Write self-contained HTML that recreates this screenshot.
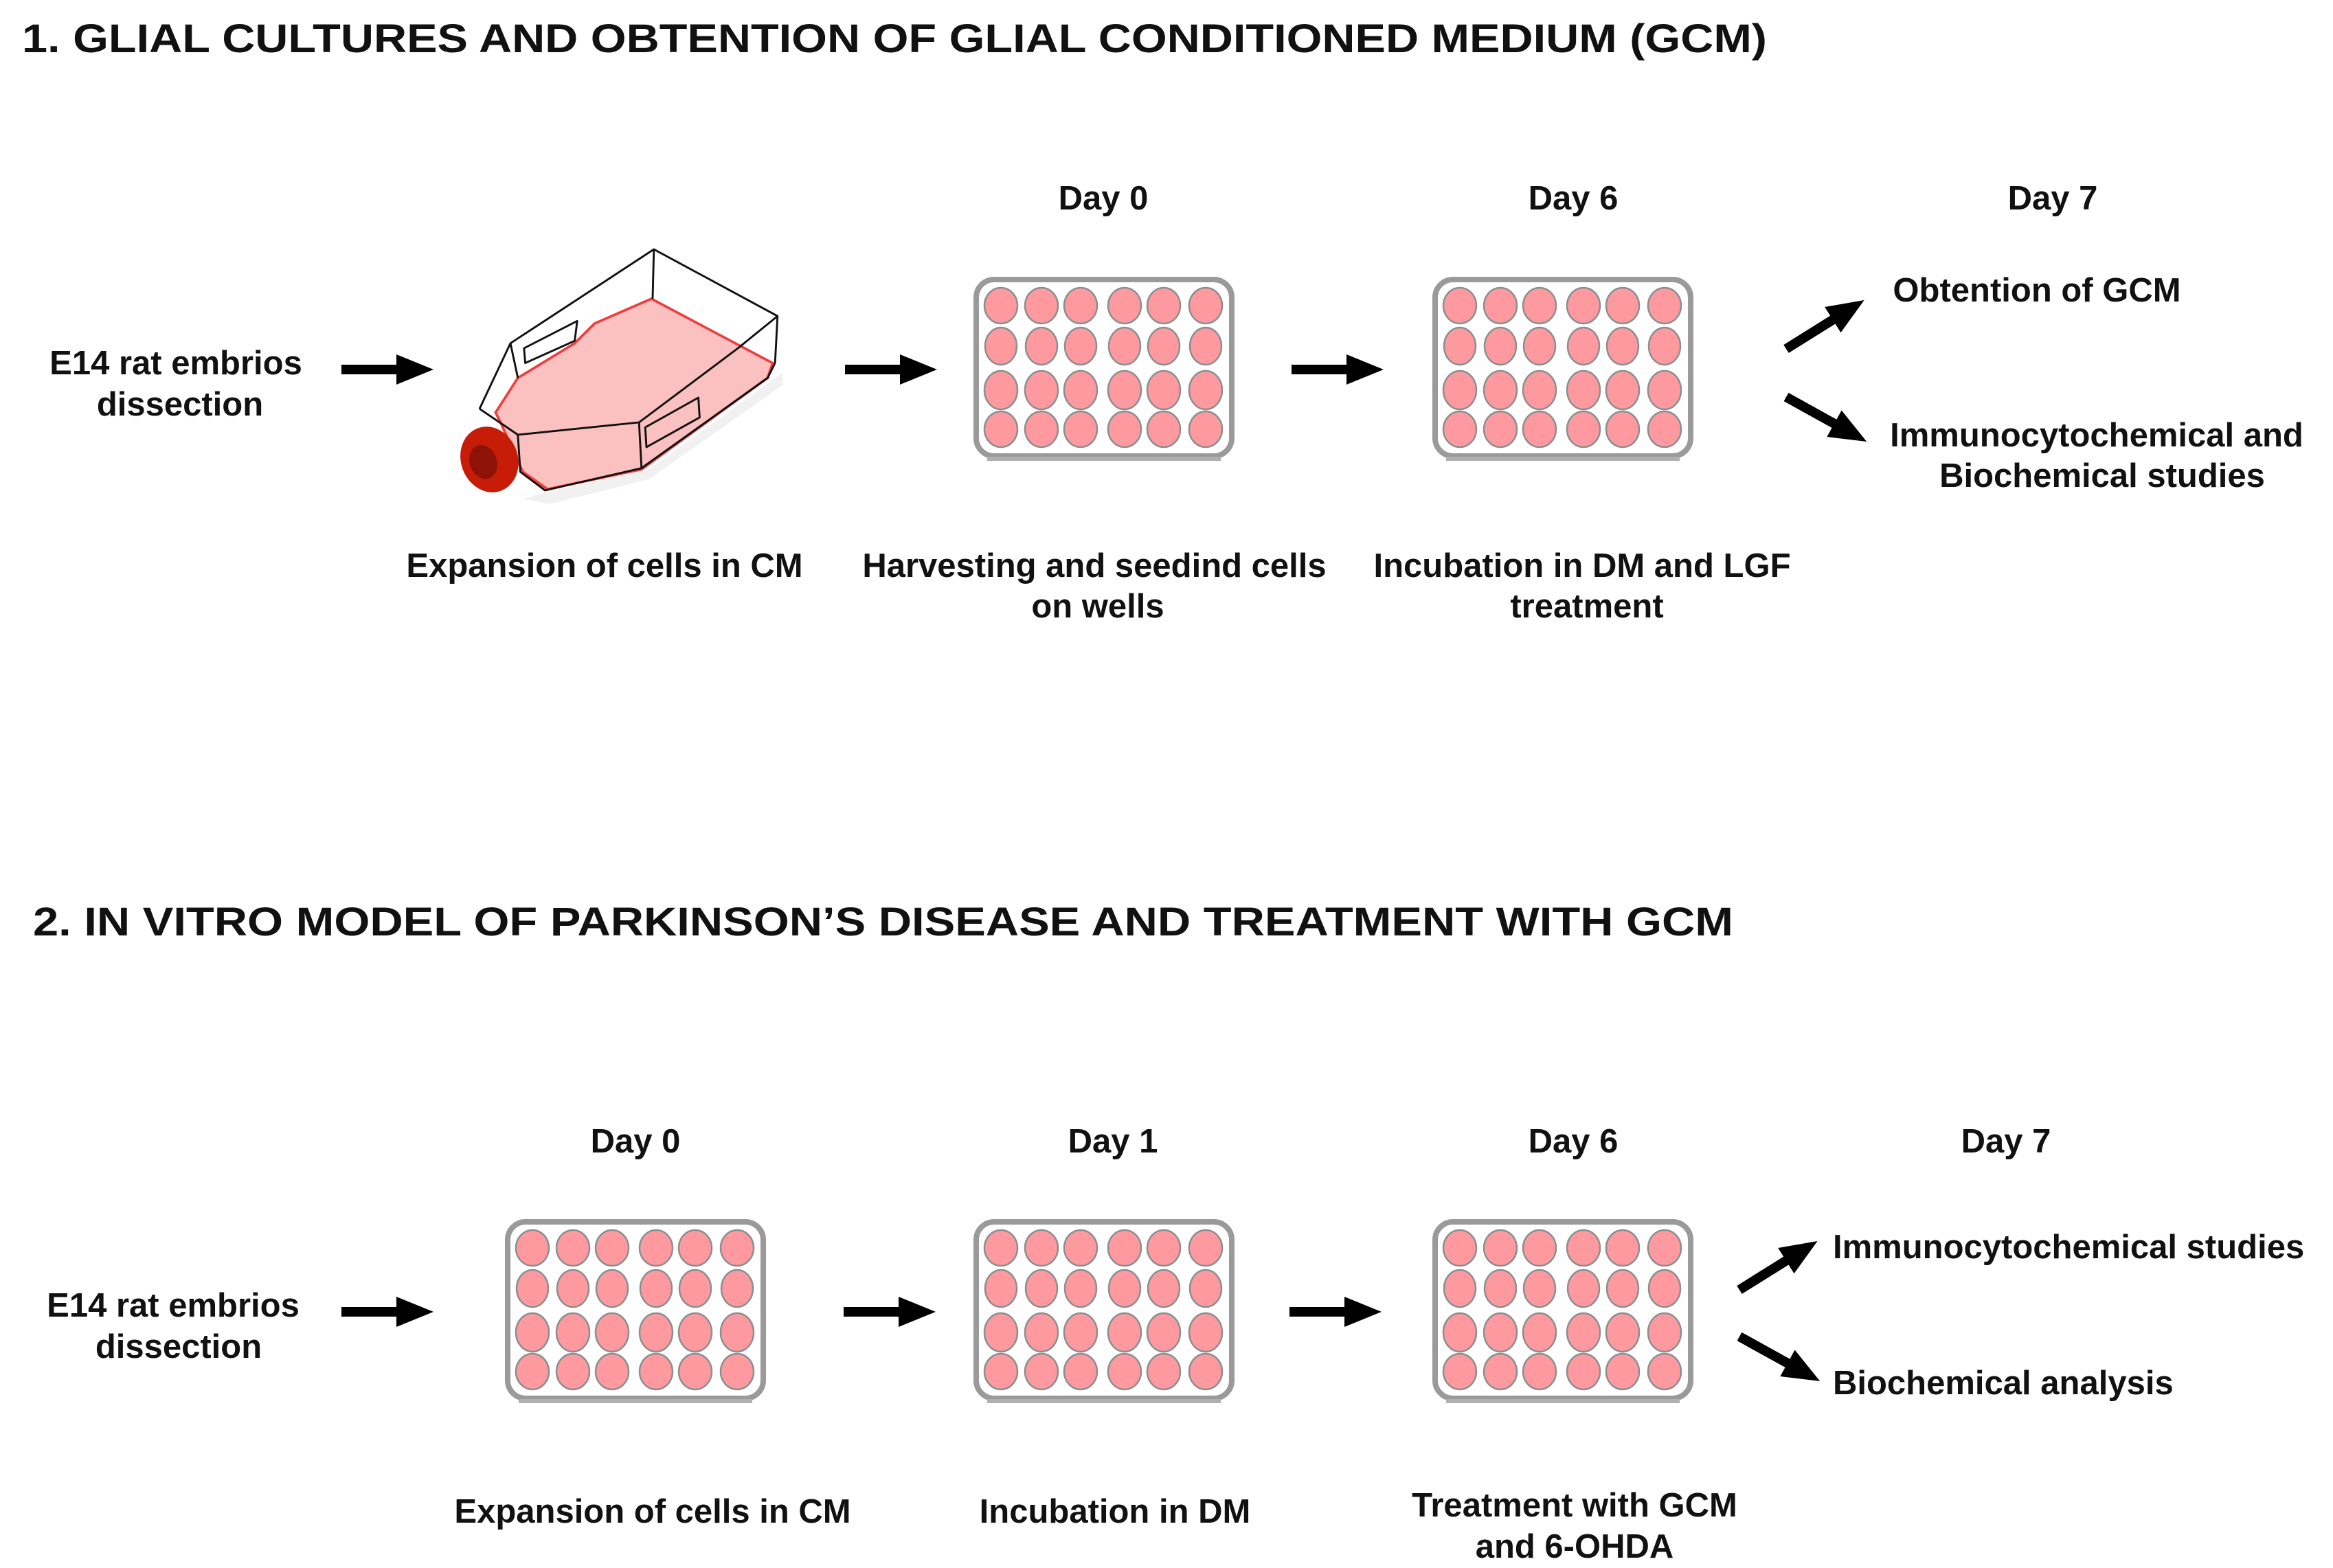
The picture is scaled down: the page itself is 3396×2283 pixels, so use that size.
<!DOCTYPE html>
<html><head><meta charset="utf-8"><style>
html,body{margin:0;padding:0;background:#fff;}
svg{display:block;}
text{font-family:"Liberation Sans",Arial,sans-serif;font-weight:bold;fill:#111;}
</style></head><body>
<svg width="3396" height="2283" viewBox="0 0 3396 2283" xmlns="http://www.w3.org/2000/svg">
<defs>
<g id="plate">
<rect x="4" y="4" width="372" height="257" rx="26" fill="#fff" stroke="#9a9a9a" stroke-width="8"/>
<rect x="20" y="262" width="340" height="6" fill="#b0b0b0"/>
<g fill="#fe9a9f" stroke="#8a8f8f" stroke-width="2.5">
<ellipse cx="40" cy="42" rx="24" ry="26"/><ellipse cx="99" cy="42" rx="24" ry="26"/><ellipse cx="156" cy="42" rx="24" ry="26"/><ellipse cx="220" cy="42" rx="24" ry="26"/><ellipse cx="277" cy="42" rx="24" ry="26"/><ellipse cx="338" cy="42" rx="24" ry="26"/>
<ellipse cx="40" cy="101" rx="23" ry="27"/><ellipse cx="99" cy="101" rx="23" ry="27"/><ellipse cx="156" cy="101" rx="23" ry="27"/><ellipse cx="220" cy="101" rx="23" ry="27"/><ellipse cx="277" cy="101" rx="23" ry="27"/><ellipse cx="338" cy="101" rx="23" ry="27"/>
<ellipse cx="40" cy="165" rx="24" ry="28"/><ellipse cx="99" cy="165" rx="24" ry="28"/><ellipse cx="156" cy="165" rx="24" ry="28"/><ellipse cx="220" cy="165" rx="24" ry="28"/><ellipse cx="277" cy="165" rx="24" ry="28"/><ellipse cx="338" cy="165" rx="24" ry="28"/>
<ellipse cx="40" cy="222" rx="24" ry="26"/><ellipse cx="99" cy="222" rx="24" ry="26"/><ellipse cx="156" cy="222" rx="24" ry="26"/><ellipse cx="220" cy="222" rx="24" ry="26"/><ellipse cx="277" cy="222" rx="24" ry="26"/><ellipse cx="338" cy="222" rx="24" ry="26"/>
</g>
</g>
<g id="arr">
<rect x="0" y="-7" width="90" height="14" fill="#000"/>
<polygon points="80,-22 134,0 80,22" fill="#000"/>
</g>
</defs>

<!-- Titles -->
<text x="32" y="76" font-size="58" textLength="2540" lengthAdjust="spacingAndGlyphs">1. GLIAL CULTURES AND OBTENTION OF GLIAL CONDITIONED MEDIUM (GCM)</text>
<text x="48" y="1362" font-size="58" textLength="2475" lengthAdjust="spacingAndGlyphs">2. IN VITRO MODEL OF PARKINSON’S DISEASE AND TREATMENT WITH GCM</text>

<g font-size="49" text-anchor="middle">
<!-- Section 1 -->
<text x="256" y="545">E14 rat embrios</text>
<text x="262" y="605">dissection</text>
<text x="1606" y="305">Day 0</text>
<text x="2290" y="305">Day 6</text>
<text x="2988" y="305">Day 7</text>
<text x="2965" y="439">Obtention of GCM</text>
<text x="3052" y="650">Immunocytochemical and</text>
<text x="3060" y="709">Biochemical  studies</text>
<text x="880" y="840">Expansion of cells in CM</text>
<text x="1593" y="840">Harvesting and seedind cells</text>
<text x="1598" y="899">on wells</text>
<text x="2303" y="840">Incubation in DM and LGF</text>
<text x="2310" y="899">treatment</text>
<!-- Section 2 -->
<text x="252" y="1917">E14 rat embrios</text>
<text x="260" y="1977">dissection</text>
<text x="925" y="1678">Day 0</text>
<text x="1620" y="1678">Day 1</text>
<text x="2290" y="1678">Day 6</text>
<text x="2920" y="1678">Day 7</text>
<text x="2668" y="1832" text-anchor="start">Immunocytochemical studies</text>
<text x="2668" y="2030" text-anchor="start">Biochemical analysis</text>
<text x="950" y="2217">Expansion of cells in CM</text>
<text x="1623" y="2217">Incubation in DM</text>
<text x="2292" y="2208">Treatment with GCM</text>
<text x="2292" y="2268">and 6-OHDA</text>
</g>

<!-- Plates -->
<use href="#plate" x="1417" y="403"/>
<use href="#plate" x="2085" y="403"/>
<use href="#plate" x="735" y="1775"/>
<use href="#plate" x="1417" y="1775"/>
<use href="#plate" x="2085" y="1775"/>

<!-- Arrows -->
<use href="#arr" x="497" y="538"/>
<use href="#arr" x="1230" y="538"/>
<use href="#arr" x="1880" y="538"/>
<use href="#arr" x="497" y="1910"/>
<use href="#arr" x="1228" y="1910"/>
<use href="#arr" x="1877" y="1910"/>
<g transform="translate(2600,508) rotate(-32)"><use href="#arr"/></g>
<g transform="translate(2600,578) rotate(29)"><use href="#arr"/></g>
<g transform="translate(2532,1878) rotate(-32)"><use href="#arr"/></g>
<g transform="translate(2532,1946) rotate(29)"><use href="#arr"/></g>

<!-- Flask -->
<g transform="translate(635,327) scale(0.36)">
<polygon points="350,1110 460,1130 860,1030 1400,650 1400,600 860,990 450,1080" fill="#e8e8e8" opacity="0.6"/>
<polygon points="240,760 330,620 560,480 640,400 870,300 1360,560 1340,620 830,990 450,1070 350,1000 260,800" fill="#fbc0c0" stroke="#f03c3c" stroke-width="10"/>
<g fill="none" stroke="#111" stroke-width="8" stroke-linejoin="round">
<polyline points="175,745 300,480 880,100 1380,370 1370,560"/>
<polyline points="175,745 330,850 820,800 1220,500 1380,370"/>
<polyline points="330,850 340,1000 440,1075 830,985 1340,620 1370,560"/>
<line x1="820" y1="800" x2="830" y2="985"/>
<line x1="880" y1="100" x2="875" y2="300"/>
<line x1="300" y1="480" x2="330" y2="620"/>
<polygon points="355,500 570,390 560,470 360,560"/>
<polygon points="845,820 1060,700 1065,780 850,900"/>
</g>
<ellipse cx="215" cy="950" rx="115" ry="135" fill="#c61c08" transform="rotate(-20 215 950)"/>
<ellipse cx="190" cy="960" rx="55" ry="70" fill="#8e1206" transform="rotate(-20 190 960)"/>
</g>
</svg>
</body></html>
